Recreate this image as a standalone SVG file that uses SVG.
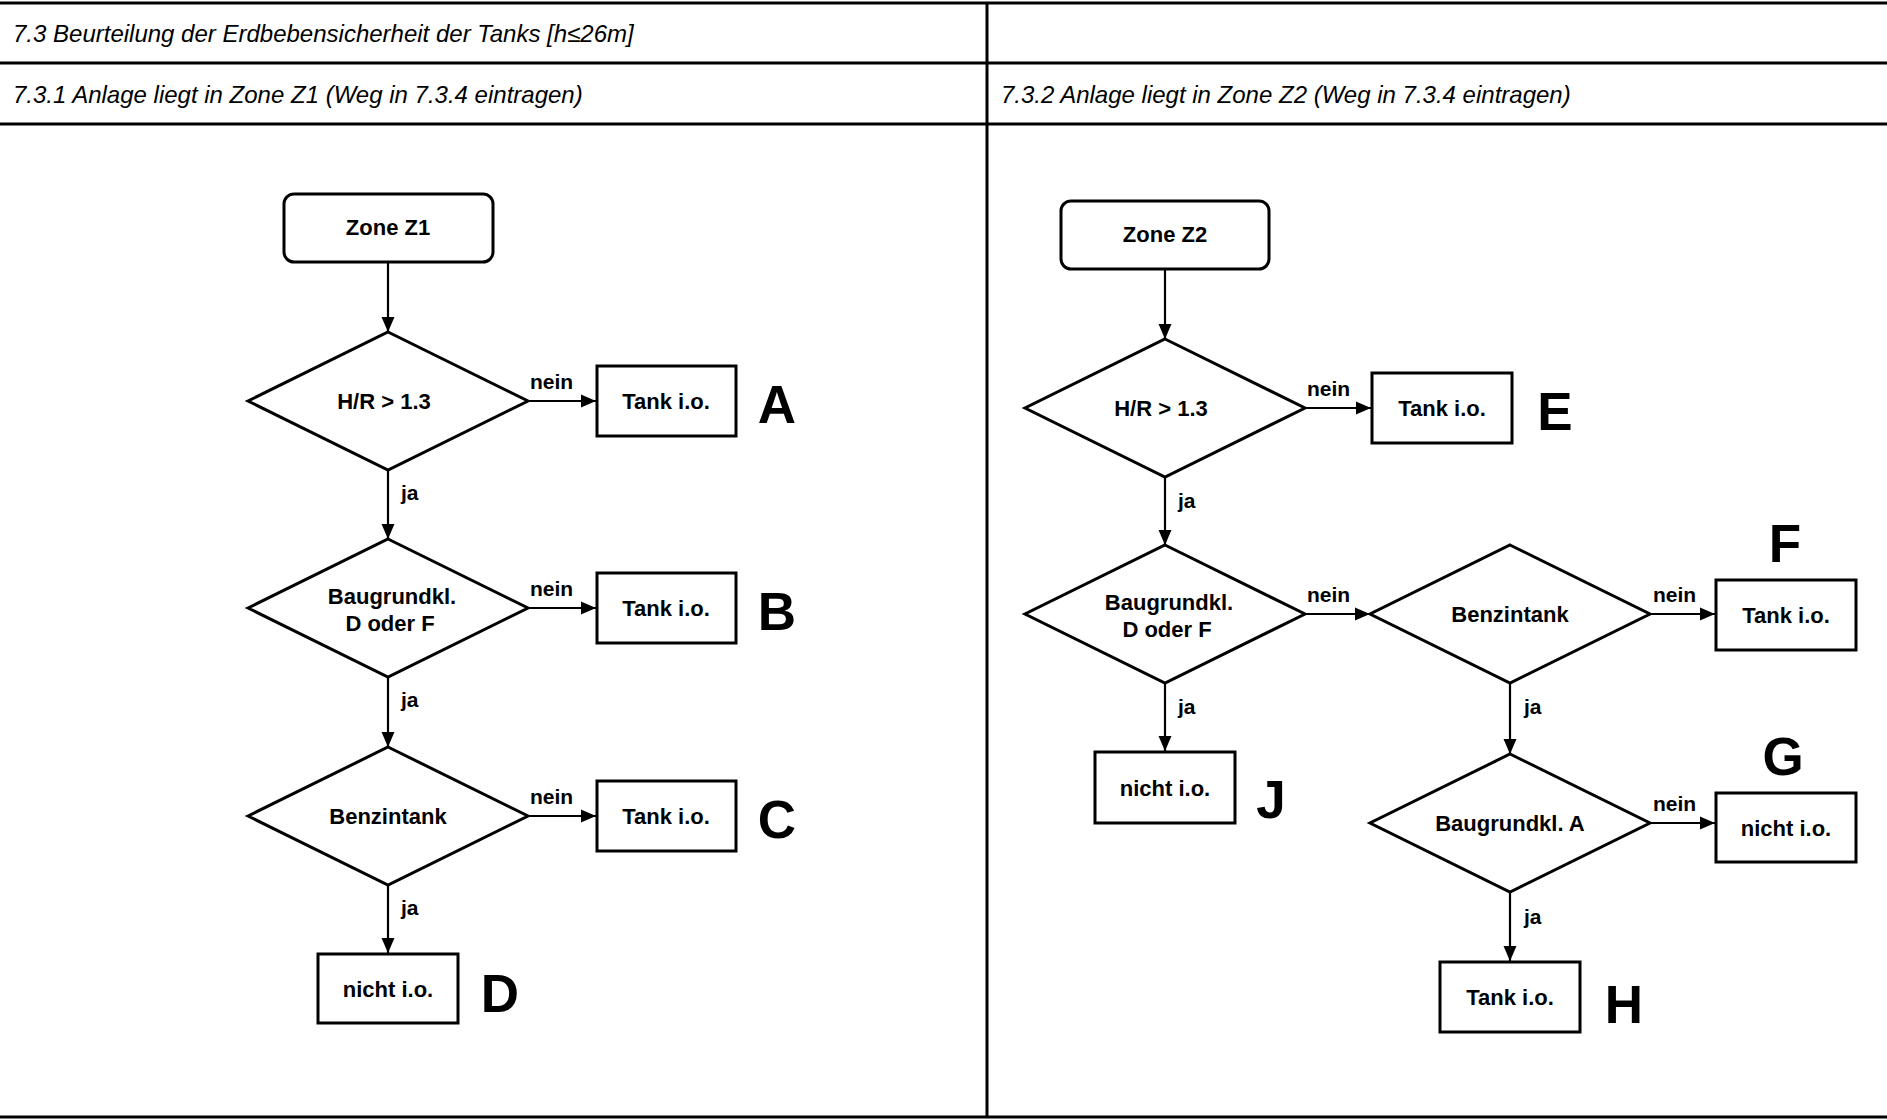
<svg xmlns="http://www.w3.org/2000/svg" width="1887" height="1120" viewBox="0 0 1887 1120">
<defs>
<marker id="arr" markerUnits="userSpaceOnUse" markerWidth="16" markerHeight="14" viewBox="0 0 16 14" refX="15" refY="7" orient="auto">
<path d="M0,0.5 L15,7 L0,13.5 Z" fill="#000"/>
</marker>
<style>
.tbl{stroke:#000;stroke-width:3;fill:none}
.hdr{font-family:"Liberation Sans",Arial,sans-serif;font-size:24px;font-style:italic;fill:#000}
.box{fill:#fff;stroke:#000;stroke-width:3}
.t{font-family:"Liberation Sans",Arial,sans-serif;font-size:22px;font-weight:bold;fill:#000;text-anchor:middle}
.lbl{font-family:"Liberation Sans",Arial,sans-serif;font-size:21px;font-weight:bold;fill:#000}
.big{font-family:"Liberation Sans",Arial,sans-serif;font-size:53px;font-weight:bold;fill:#000;text-anchor:middle}
.c{stroke:#000;stroke-width:2.2;fill:none;marker-end:url(#arr)}
</style>
</defs>
<rect width="1887" height="1120" fill="#fff"/>
<g id="table">
<line class="tbl" x1="0" y1="3" x2="1887" y2="3"/>
<line class="tbl" x1="0" y1="63" x2="1887" y2="63"/>
<line class="tbl" x1="0" y1="124" x2="1887" y2="124"/>
<line class="tbl" x1="0" y1="1117" x2="1887" y2="1117"/>
<line class="tbl" x1="987" y1="3" x2="987" y2="1117"/>
<text class="hdr" x="13" y="42">7.3 Beurteilung der Erdbebensicherheit der Tanks [h≤26m]</text>
<text class="hdr" x="13" y="103">7.3.1 Anlage liegt in Zone Z1 (Weg in 7.3.4 eintragen)</text>
<text class="hdr" x="1001" y="103">7.3.2 Anlage liegt in Zone Z2 (Weg in 7.3.4 eintragen)</text>
</g>
<g id="connectors">
<line class="c" x1="388" y1="262" x2="388" y2="332"/>
<line class="c" x1="528" y1="401" x2="596" y2="401"/>
<line class="c" x1="388" y1="470" x2="388" y2="539"/>
<line class="c" x1="528" y1="608" x2="596" y2="608"/>
<line class="c" x1="388" y1="677" x2="388" y2="747"/>
<line class="c" x1="528" y1="816" x2="596" y2="816"/>
<line class="c" x1="388" y1="885" x2="388" y2="953"/>
<line class="c" x1="1165" y1="269" x2="1165" y2="339"/>
<line class="c" x1="1305" y1="408" x2="1371" y2="408"/>
<line class="c" x1="1165" y1="477" x2="1165" y2="545"/>
<line class="c" x1="1305" y1="614" x2="1370" y2="614"/>
<line class="c" x1="1650" y1="614" x2="1715" y2="614"/>
<line class="c" x1="1165" y1="683" x2="1165" y2="751"/>
<line class="c" x1="1510" y1="683" x2="1510" y2="754"/>
<line class="c" x1="1650" y1="823" x2="1715" y2="823"/>
<line class="c" x1="1510" y1="892" x2="1510" y2="961"/>
<text class="lbl" x="530" y="389">nein</text>
<text class="lbl" x="401" y="500">ja</text>
<text class="lbl" x="530" y="596">nein</text>
<text class="lbl" x="401" y="707">ja</text>
<text class="lbl" x="530" y="804">nein</text>
<text class="lbl" x="401" y="915">ja</text>
<text class="lbl" x="1307" y="396">nein</text>
<text class="lbl" x="1178" y="508">ja</text>
<text class="lbl" x="1307" y="602">nein</text>
<text class="lbl" x="1653" y="602">nein</text>
<text class="lbl" x="1178" y="714">ja</text>
<text class="lbl" x="1524" y="714">ja</text>
<text class="lbl" x="1653" y="811">nein</text>
<text class="lbl" x="1524" y="924">ja</text>
</g>
<g id="zone1"><rect class="box" x="284" y="194" width="209" height="68" rx="10"/><text class="t" x="388" y="235">Zone  Z1</text></g>
<g id="l_d1"><polygon class="box" points="388,332 528,401 388,470 248,401"/><text class="t" x="384" y="409">H/R &gt; 1.3</text></g>
<g id="boxA"><rect class="box" x="597" y="366" width="139" height="70"/><text class="t" x="666" y="409">Tank i.o.</text></g>
<text class="big" x="777" y="423">A</text>
<g id="l_d2"><polygon class="box" points="388,539 528,608 388,677 248,608"/><text class="t" x="392" y="604">Baugrundkl.</text><text class="t" x="390" y="631">D oder F</text></g>
<g id="boxB"><rect class="box" x="597" y="573" width="139" height="70"/><text class="t" x="666" y="616">Tank i.o.</text></g>
<text class="big" x="777" y="630">B</text>
<g id="l_d3"><polygon class="box" points="388,747 528,816 388,885 248,816"/><text class="t" x="388" y="824">Benzintank</text></g>
<g id="boxC"><rect class="box" x="597" y="781" width="139" height="70"/><text class="t" x="666" y="824">Tank i.o.</text></g>
<text class="big" x="777" y="838">C</text>
<g id="boxD"><rect class="box" x="318" y="954" width="140" height="69"/><text class="t" x="388" y="997">nicht i.o.</text></g>
<text class="big" x="500" y="1012">D</text>
<g id="zone2"><rect class="box" x="1061" y="201" width="208" height="68" rx="10"/><text class="t" x="1165" y="242">Zone  Z2</text></g>
<g id="r_d1"><polygon class="box" points="1165,339 1305,408 1165,477 1025,408"/><text class="t" x="1161" y="416">H/R &gt; 1.3</text></g>
<g id="boxE"><rect class="box" x="1372" y="373" width="140" height="70"/><text class="t" x="1442" y="416">Tank i.o.</text></g>
<text class="big" x="1555" y="430">E</text>
<g id="r_d2"><polygon class="box" points="1165,545 1305,614 1165,683 1025,614"/><text class="t" x="1169" y="610">Baugrundkl.</text><text class="t" x="1167" y="637">D oder F</text></g>
<g id="r_d3"><polygon class="box" points="1510,545 1650,614 1510,683 1370,614"/><text class="t" x="1510" y="622">Benzintank</text></g>
<g id="boxF"><rect class="box" x="1716" y="580" width="140" height="70"/><text class="t" x="1786" y="623">Tank i.o.</text></g>
<text class="big" x="1785" y="562">F</text>
<g id="boxJ"><rect class="box" x="1095" y="752" width="140" height="71"/><text class="t" x="1165" y="796">nicht i.o.</text></g>
<text class="big" x="1271" y="818">J</text>
<g id="r_d4"><polygon class="box" points="1510,754 1650,823 1510,892 1370,823"/><text class="t" x="1510" y="831">Baugrundkl. A</text></g>
<g id="boxG"><rect class="box" x="1716" y="793" width="140" height="69"/><text class="t" x="1786" y="836">nicht i.o.</text></g>
<text class="big" x="1783" y="775">G</text>
<g id="boxH"><rect class="box" x="1440" y="962" width="140" height="70"/><text class="t" x="1510" y="1005">Tank i.o.</text></g>
<text class="big" x="1624" y="1023">H</text>
</svg>
